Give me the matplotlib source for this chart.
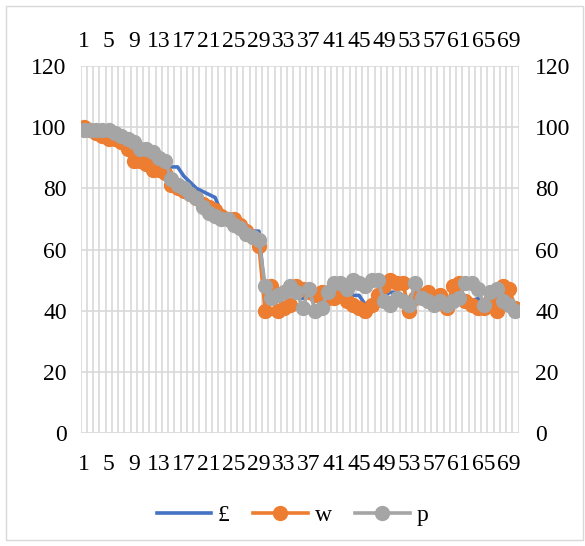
import matplotlib

matplotlib.use("Agg")

import matplotlib.pyplot as plt
from matplotlib.patches import Rectangle
import numpy as np

# category index 1..70
categories = list(range(1, 71))

pound = [100, 99, 99, 99, 98, 97, 96, 95, 94, 93, 92, 91, 90, 87, 87, 87,
         84, 82, 80, 79, 78, 77, 72, 70, 69, 68, 67, 66, 66,
         44, 45, 44, 45, 46, 45, 44, 45, 44, 43, 45, 46, 46, 45, 45, 45,
         42, 43, 45, 45, 46, 46, 45, 42, 46, 44, 44, 43, 43, 43, 45, 46,
         43, 43, 44, 42, 44, 44, 45, 44, 42]
w = [100, 99, 98, 97, 96, 96, 95, 93, 89, 89, 88, 86, 86, 85,
     81, 80, 79, 78, 77, 75, 74, 73, 71, 70, 70, 68, 66, 64, 61,
     40, 48, 40, 41, 42, 48, 47, 46, 45, 46, 44, 44, 45, 43, 42, 41,
     40, 42, 45, 48, 50, 49, 49, 40, 44, 45, 46, 43, 45, 41, 48, 49,
     43, 42, 41, 41, 43, 40, 48, 47, 41]
p = [99, 99, 99, 99, 99, 98, 97, 96, 95, 93, 93, 92, 90, 89,
     83, 81, 80, 78, 77, 74, 72, 71, 70, 70, 68, 67, 65, 64, 63,
     48, 44, 45, 46, 48, 46, 41, 47, 40, 41, 46, 49, 49, 47, 50, 49,
     48, 50, 50, 43, 42, 44, 43, 42, 49, 44, 43, 42, 43, 42, 43, 44,
     49, 49, 47, 42, 46, 47, 43, 42, 40]

series_names = ["£", "w", "p"]
colors = ["#4472C4", "#ED7D31", "#A5A5A5"]
x_ticks = categories[::4]
x_tick_labels = [str(c) for c in x_ticks]
y_ticks = [0, 20, 40, 60, 80, 100, 120]

plt.rcParams["font.family"] = ["Liberation Serif", "DejaVu Serif"]
FS = 17

fig = plt.figure(figsize=(5.85, 5.46), dpi=100)
fig.patches.append(Rectangle((6 / 585, 6 / 546), 577 / 585, 534 / 546,
                             transform=fig.transFigure, fill=False,
                             edgecolor="#D9D9D9", linewidth=1))
ax = fig.add_axes([80.6 / 585, 1 - 433 / 546, 438 / 585, 367 / 546])

ax.plot(categories, pound, color=colors[0], linewidth=2.6, label=series_names[0],
        solid_joinstyle="round")
ax.plot(categories, w, color=colors[1], linewidth=2.6, marker="o", markersize=10,
        label=series_names[1])
ax.plot(categories, p, color=colors[2], linewidth=2.6, marker="o", markersize=10,
        label=series_names[2])

ax.set_xlim(0.5, 70.5)
ax.set_ylim(0, 120)
for b in np.arange(0.5, 71, 1.0):
    ax.axvline(b, color="#D9D9D9", linewidth=1.2, zorder=0)
for t in y_ticks:
    ax.axhline(t, color="#D9D9D9", linewidth=1.2, zorder=0)
for s in ax.spines.values():
    s.set_visible(False)

ax.set_xticks(x_ticks)
ax.set_xticklabels(x_tick_labels)
ax.set_yticks(y_ticks)
ax.tick_params(axis="both", length=0, labelsize=FS, colors="black")
ax.tick_params(axis="x", pad=15)
ax.tick_params(axis="y", pad=10)

top = ax.secondary_xaxis("top")
top.set_xticks(x_ticks)
top.set_xticklabels(x_tick_labels)
top.tick_params(length=0, labelsize=FS, pad=10)
right = ax.secondary_yaxis("right")
right.set_yticks(y_ticks)
right.tick_params(length=0, labelsize=FS, pad=12)
for sec in (top, right):
    for s in sec.spines.values():
        s.set_visible(False)

fig.legend(loc="center", bbox_to_anchor=(0.5, 1 - 515 / 546), ncol=3,
           frameon=False, fontsize=FS, handlelength=2.3, columnspacing=1.0,
           handletextpad=0.3)

fig.savefig("out.png", dpi=100)
plt.close(fig)
